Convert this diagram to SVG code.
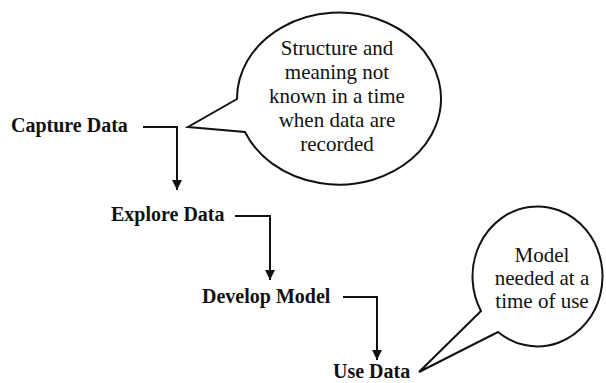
<svg xmlns="http://www.w3.org/2000/svg" width="606" height="383" viewBox="0 0 606 383">
<style>
.lbl{font-family:"Liberation Serif","Times New Roman",serif;font-weight:bold;font-size:20px;fill:#111}
.bt{font-family:"Liberation Serif","Times New Roman",serif;font-size:21px;fill:#111;text-anchor:middle}
.conn{fill:none;stroke:#111;stroke-width:2}
.bub{fill:#fff;stroke:#111;stroke-width:2;stroke-linejoin:miter}
</style>
<defs>
<marker id="ah" markerUnits="userSpaceOnUse" markerWidth="12" markerHeight="12" viewBox="0 0 12 12" refX="10" refY="6" orient="auto">
<path d="M0,1 L10,6 L0,11 Z" fill="#111"/>
</marker>
</defs>
<rect width="606" height="383" fill="#fff"/>
<g id="connectors">
<path class="conn" d="M143,127 H177 V190" marker-end="url(#ah)"/>
<path class="conn" d="M235,216 H270 V280" marker-end="url(#ah)"/>
<path class="conn" d="M343,297 H377 V360" marker-end="url(#ah)"/>
</g>
<g id="capture"><text class="lbl" x="11" y="132">Capture Data</text></g>
<g id="explore"><text class="lbl" x="111" y="221">Explore Data</text></g>
<g id="develop"><text class="lbl" x="202" y="303">Develop Model</text></g>
<g id="use"><text class="lbl" x="333" y="378">Use Data</text></g>
<g id="bubble1">
<path class="bub" d="M237,99 L188,127 L245,132 A102,86 0 1 0 237,99 Z"/>
<text class="bt" x="337" y="55">Structure and</text>
<text class="bt" x="337" y="79">meaning not</text>
<text class="bt" x="337" y="103">known in a time</text>
<text class="bt" x="337" y="127">when data are</text>
<text class="bt" x="337" y="151">recorded</text>
</g>
<g id="bubble2">
<path class="bub" d="M481,311 L419,372 L498,332 A65,70 0 1 0 481,311 Z"/>
<text class="bt" x="542" y="262">Model</text>
<text class="bt" x="542" y="285">needed at a</text>
<text class="bt" x="542" y="308">time of use</text>
</g>
</svg>
